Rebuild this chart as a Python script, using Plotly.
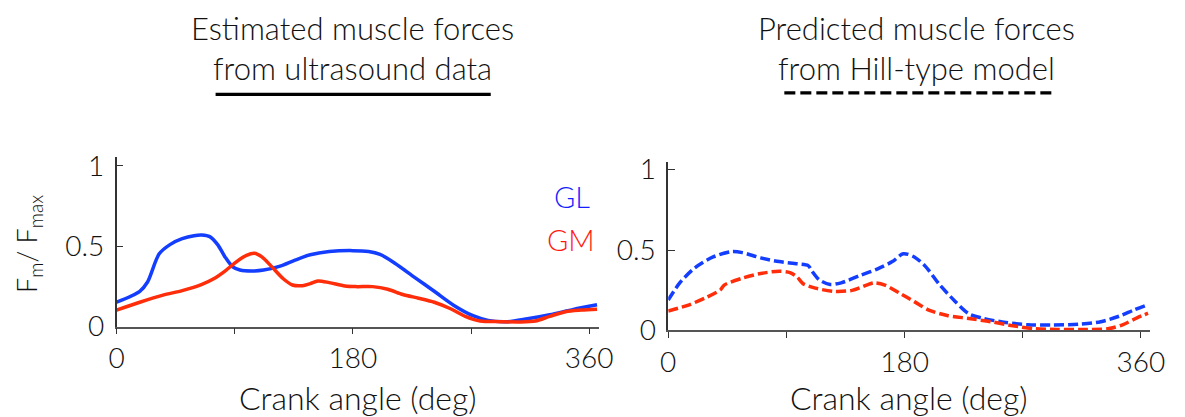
import plotly.graph_objects as go

W, H = 1185, 417

# ---------------- data ----------------
ang_gl_us = [0, 17.7, 23.6, 32.5, 41, 50, 59, 65, 71, 77, 82.6, 88.5, 94, 103, 112, 124, 136,
             147.5, 162, 180, 192, 200.7, 212, 227, 242, 257, 271.5, 283, 298, 313, 330, 348, 366]
gl_us = [0.152, 0.22, 0.278, 0.453, 0.512, 0.547, 0.566, 0.570, 0.56, 0.51, 0.434, 0.372, 0.352,
         0.346, 0.352, 0.375, 0.414, 0.447, 0.467, 0.473, 0.467, 0.449, 0.395, 0.307, 0.22, 0.132,
         0.068, 0.039, 0.031, 0.049, 0.074, 0.107, 0.136]

ang_gm_us = [0, 17.7, 35.4, 50, 65, 74, 82.6, 91.5, 99, 105, 110.7, 118, 127, 134, 141.6, 147.5,
             153.4, 162, 174, 183, 195, 206.6, 218, 230, 242, 254, 265.6, 277, 292, 307, 319, 330,
             342, 354, 366]
gm_us = [0.103, 0.152, 0.196, 0.224, 0.263, 0.298, 0.346, 0.405, 0.444, 0.457, 0.434, 0.375,
         0.298, 0.259, 0.255, 0.268, 0.284, 0.274, 0.253, 0.249, 0.249, 0.233, 0.2, 0.177, 0.152,
         0.113, 0.064, 0.035, 0.031, 0.029, 0.035, 0.064, 0.093, 0.103, 0.109]

ang_gl_hill = [0, 9.2, 20.3, 34.2, 48.2, 56.5, 70.4, 84.4, 98.3, 106.6, 109.4, 115, 123.3, 131.7,
               145.6, 159.5, 170.7, 179, 187.4, 195.7, 206.9, 218, 229, 240.3, 257, 273.7, 293,
               312.7, 329.4, 343.3, 354.4, 364]
gl_hill = [0.189, 0.30, 0.389, 0.457, 0.49, 0.484, 0.451, 0.428, 0.414, 0.403, 0.37, 0.315, 0.286,
           0.296, 0.34, 0.383, 0.428, 0.477, 0.457, 0.40, 0.282, 0.185, 0.103, 0.074, 0.049,
           0.035, 0.033, 0.039, 0.054, 0.088, 0.126, 0.156]

ang_gm_hill = [0, 14.8, 28.7, 39.8, 42.6, 56.5, 70.4, 84.4, 92.7, 98.3, 102.5, 112, 126, 140, 151,
               156.8, 165, 176, 187.4, 198.5, 212.4, 229, 245.8, 262.5, 279.2, 296, 315.3, 334.8,
               346, 357, 365.4]
gm_hill = [0.121, 0.156, 0.204, 0.253, 0.282, 0.325, 0.354, 0.368, 0.36, 0.331, 0.292, 0.263,
           0.243, 0.249, 0.282, 0.296, 0.282, 0.233, 0.179, 0.126, 0.093, 0.074, 0.054, 0.029,
           0.01, 0.006, 0.006, 0.01, 0.035, 0.078, 0.107]

x_tickvals = [0, 180, 360]
x_ticktext = ["0", "180", "360"]
x_minor_tickvals = [90, 270]
y_tickvals = [0, 0.5, 1]
y_ticktext = ["0", "0.5", "1"]

BLUE = "rgb(20,62,255)"
RED = "rgb(255,45,10)"
FONT = "Lato"
TXT = "#111"


def px(x):
    return x / W


def py(y):
    return 1 - y / H


fig = go.Figure()

fig.add_trace(go.Scatter(x=ang_gl_us, y=gl_us, mode="lines", xaxis="x", yaxis="y",
                         line=dict(color=BLUE, width=3.5, shape="spline", smoothing=0.8),
                         showlegend=False))
fig.add_trace(go.Scatter(x=ang_gm_us, y=gm_us, mode="lines", xaxis="x", yaxis="y",
                         line=dict(color=RED, width=3.5, shape="spline", smoothing=0.8),
                         showlegend=False))
fig.add_trace(go.Scatter(x=ang_gl_hill, y=gl_hill, mode="lines", xaxis="x2", yaxis="y2",
                         line=dict(color=BLUE, width=3.5, dash="10px,4px", shape="spline",
                                   smoothing=0.8),
                         showlegend=False))
fig.add_trace(go.Scatter(x=ang_gm_hill, y=gm_hill, mode="lines", xaxis="x2", yaxis="y2",
                         line=dict(color=RED, width=3.5, dash="10px,4px", shape="spline",
                                   smoothing=0.8),
                         showlegend=False))

tick_font = dict(family=FONT, size=28, color=TXT, weight=300)
xcommon = dict(range=[0, 367.2], tickvals=x_tickvals, ticktext=x_ticktext, showline=True,
               linecolor="#555", linewidth=1.5, ticks="outside", ticklen=6, tickwidth=1.2,
               tickcolor="#333", showgrid=False, zeroline=False, ticklabelstandoff=0,
               tickfont=tick_font,
               minor=dict(tickvals=x_minor_tickvals, ticks="outside", ticklen=6, tickwidth=1.2,
                          tickcolor="#333", showgrid=False))
ycommon = dict(tickvals=y_tickvals, ticktext=y_ticktext, showline=True, linecolor="#333",
               linewidth=1.5, ticks="inside", ticklen=7, tickwidth=1.2, tickcolor="#333",
               showgrid=False, zeroline=False, ticklabelstandoff=5, tickfont=tick_font)

fig.update_layout(
    width=W, height=H,
    margin=dict(l=0, r=0, t=0, b=0),
    paper_bgcolor="white", plot_bgcolor="white",
    xaxis=dict(domain=[px(110.7), px(602.3)], anchor="y", **xcommon),
    yaxis=dict(domain=[py(337.7), py(156.7)], anchor="x", range=[0, 1.056], **ycommon),
    xaxis2=dict(domain=[px(673.3), px(1165)], anchor="y2", **xcommon),
    yaxis2=dict(domain=[py(341.7), py(161.7)], anchor="x2", range=[0, 1.05], **ycommon),
)


def label(text, x, y, size, color=TXT, angle=0):
    return dict(text=text, x=px(x), y=py(y), xref="paper", yref="paper", xanchor="center",
                yanchor="middle", showarrow=False, textangle=angle, align="center",
                font=dict(family=FONT, size=size, color=color, weight=300))


ann = [
    label("Estimated muscle forces<br>from ultrasound data", 351.5, 40, 31),
    label("Predicted muscle forces<br>from Hill-type model", 926.7, 40, 31),
    label("Crank angle (deg)", 356.5, 413, 32),
    label("Crank angle (deg)", 919.2, 413, 32),
    label("F<sub>m</sub>/ F<sub>max</sub>", 21, 250, 27, angle=-90),
    label("GL", 574.7, 199, 29, color="rgb(20,30,255)"),
    label("GM", 574.0, 244.5, 29, color="rgb(255,25,15)"),
]
fig.update_layout(annotations=ann)

fig.add_shape(type="line", xref="paper", yref="paper", x0=px(211.7), x1=px(492.3),
              y0=py(90), y1=py(90), line=dict(color="black", width=3.3))
fig.add_shape(type="line", xref="paper", yref="paper", x0=px(791.7), x1=px(1068.3),
              y0=py(88.3), y1=py(88.3), line=dict(color="black", width=3.3, dash="11px,5px"))

fig.write_html("out.html", config={"displayModeBar": False},
               post_script="document.body.style.margin='0';")
